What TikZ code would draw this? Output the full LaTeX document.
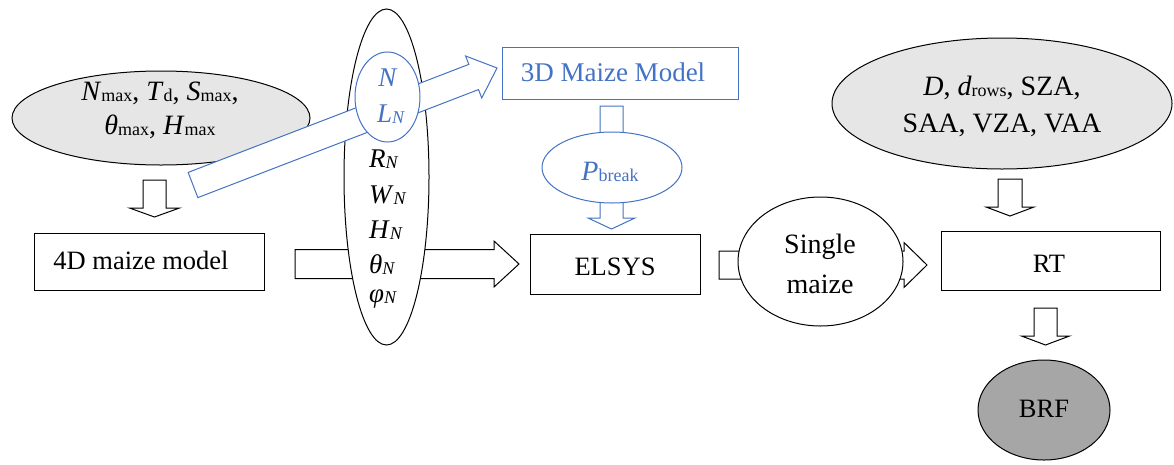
\documentclass[tikz,border=0pt]{standalone}
\usepackage{fontspec}
\setmainfont{Liberation Serif}
\usetikzlibrary{shapes.geometric,calc}
\definecolor{ablue}{HTML}{4472C4}
\definecolor{lgrey}{HTML}{E6E6E6}
\definecolor{dgrey}{HTML}{A6A6A6}
\newcommand{\sbs}[1]{\raisebox{-1.5pt}{\fontsize{18}{18}\selectfont #1}}
\newcommand{\blockarrow}[6]{%
  \coordinate (ba-base) at ($(#3)!#6!(#2)$);
  \draw[#1] ($(#2)!#4!90:(#3)$) -- ($(ba-base)!#4!90:(#3)$) -- ($(ba-base)!#5!90:(#3)$)
    -- (#3) -- ($(ba-base)!#5!-90:(#3)$) -- ($(ba-base)!#4!-90:(#3)$) -- ($(#2)!#4!-90:(#3)$) -- cycle;
}
\tikzset{
  ell/.style={ellipse, draw, line width=1pt, inner sep=0pt, fill=white},
  box/.style={rectangle, draw, line width=1pt, inner sep=0pt, fill=white},
  lbl/.style={inner sep=0pt, font=\fontsize{26.5}{30}\selectfont},
  plbl/.style={inner sep=0pt, font=\fontsize{28}{32}\selectfont},
  tlbl/.style={inner sep=0pt, font=\fontsize{27}{30}\selectfont},
  barrow/.style={line width=1pt, fill=white, line join=miter},
  bbarrow/.style={line width=1pt, fill=white, draw=ablue, line join=miter},
}
\begin{document}
\begin{tikzpicture}[x=1pt,y=-1pt]
\useasboundingbox (0,0) rectangle (1174,464);

% left grey ellipse
\node[ell, fill=lgrey, minimum width=298pt, minimum height=94pt] (gl) at (161,118) {};
\node[plbl, anchor=base] (gl1) at (160,100) {\textit{N}\sbs{max}, \textit{T}\sbs{d}, \textit{S}\sbs{max},};
\node[plbl, anchor=base] (gl2) at (160,134) {\textit{θ}\sbs{max}, \textit{H}\sbs{max}};

% arrow to 4D model
\coordinate (a1s) at (154.5,180);
\coordinate (a1e) at (154.5,217);
\blockarrow{barrow}{a1s}{a1e}{11.5pt}{25pt}{9pt}

% 4D maize model
\node[box, minimum width=230pt, minimum height=57pt] (m4d) at (149,261.5) {};
\node[lbl, anchor=base] (m4dt) at (141,269) {4D maize model};

% big arrow 4D -> ELSYS
\coordinate (a2s) at (295,264);
\coordinate (a2e) at (519,264);
\blockarrow{barrow}{a2s}{a2e}{14.5pt}{23pt}{25pt}

% tall ellipse
\node[ell, minimum width=85pt, minimum height=336pt] (tall) at (386.5,177) {};

% blue diagonal arrow
\coordinate (a3s) at (193,185);
\coordinate (a3e) at (497,68);
\blockarrow{bbarrow}{a3s}{a3e}{13.5pt}{22.5pt}{25pt}

% blue small ellipse
\node[ell, draw=ablue, minimum width=65pt, minimum height=90pt] (nl) at (387.5,97) {};
\node[tlbl, anchor=base, text=ablue] (tN) at (388,86) {\textit{N}};
\node[tlbl, anchor=base, text=ablue] (tLN) at (391,122) {\textit{L}\sbs{\textit{N}}};
\node[tlbl, anchor=base west] (tRN) at (369,167) {\textit{R}\sbs{\textit{N}}};
\node[tlbl, anchor=base west] (tWN) at (369,203) {\textit{W}\sbs{\textit{N}}};
\node[tlbl, anchor=base west] (tHN) at (369,238) {\textit{H}\sbs{\textit{N}}};
\node[tlbl, anchor=base west] (tTN) at (369,273) {\textit{θ}\sbs{\textit{N}}};
\node[tlbl, anchor=base west] (tPN) at (369,302) {\textit{φ}\sbs{\textit{N}}};

% 3D maize model
\node[box, draw=ablue, minimum width=236pt, minimum height=52pt] (m3d) at (620,73) {};
\node[tlbl, anchor=base, text=ablue] (m3dt) at (613,81) {3D Maize Model};

% blue down arrow
\coordinate (a4s) at (611.5,106);
\coordinate (a4e) at (611.5,229);
\blockarrow{bbarrow}{a4s}{a4e}{11.5pt}{23.5pt}{11pt}
\node[ell, draw=ablue, minimum width=140pt, minimum height=71pt] (pb) at (612,167.5) {};
\node[plbl, anchor=base, text=ablue] (pbt) at (610,180) {\textit{P}\sbs{break}};

% ELSYS
\node[box, minimum width=170pt, minimum height=60pt] (elsys) at (615,264) {};
\node[lbl, anchor=base] (elsyst) at (615,275) {ELSYS};

% arrow ELSYS -> RT
\coordinate (a5s) at (719,265);
\coordinate (a5e) at (927,265);
\blockarrow{barrow}{a5s}{a5e}{14pt}{22.5pt}{23pt}
\node[ell, minimum width=165pt, minimum height=129pt] (sm) at (820.5,261.5) {};
\node[plbl, anchor=base] (sm1) at (820,253) {Single};
\node[plbl, anchor=base] (sm2) at (820,293) {maize};

% right grey ellipse
\node[ell, fill=lgrey, minimum width=340pt, minimum height=131pt] (gr) at (1002,103.5) {};
\node[plbl, anchor=base] (gr1) at (1002,95) {\textit{D}, \textit{d}\sbs{rows}, SZA,};
\node[plbl, anchor=base] (gr2) at (1002,132) {SAA, VZA, VAA};

\coordinate (a6s) at (1010,179);
\coordinate (a6e) at (1010,216);
\blockarrow{barrow}{a6s}{a6e}{12pt}{24pt}{9pt}

% RT
\node[box, minimum width=219pt, minimum height=59pt] (rt) at (1050.5,260.5) {};
\node[lbl, anchor=base] (rtt) at (1049,272) {RT};

\coordinate (a7s) at (1045.5,308);
\coordinate (a7e) at (1045.5,345);
\blockarrow{barrow}{a7s}{a7e}{11.5pt}{24pt}{9pt}

% BRF
\node[ell, fill=dgrey, minimum width=132pt, minimum height=100pt] (brf) at (1044,410) {};
\node[lbl, anchor=base] (brft) at (1044,417) {BRF};
\end{tikzpicture}
\end{document}
